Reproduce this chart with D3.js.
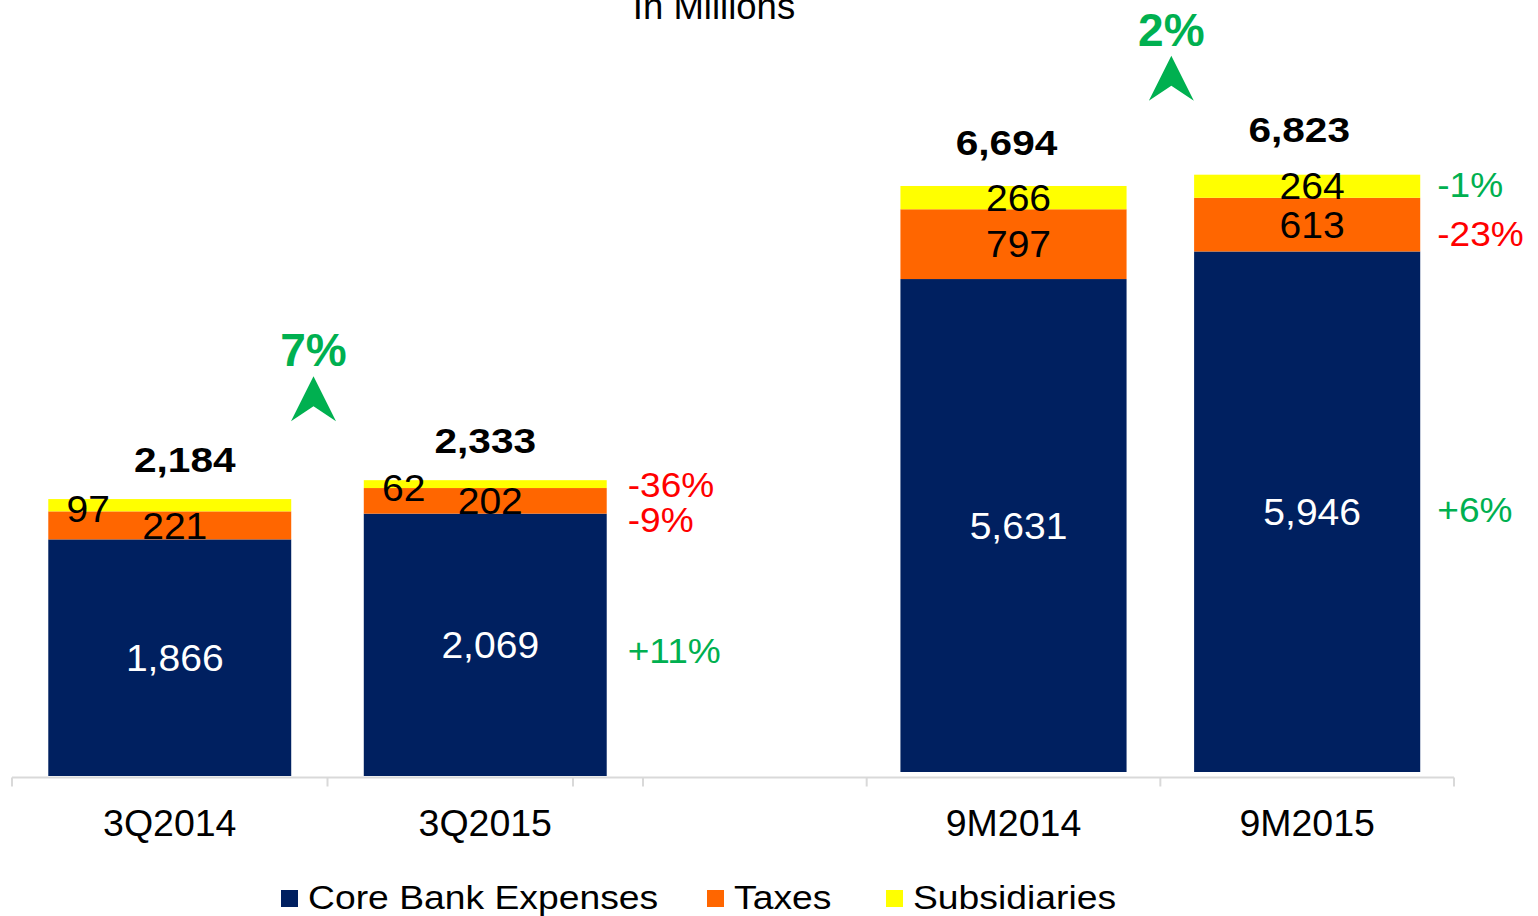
<!DOCTYPE html>
<html>
<head>
<meta charset="utf-8">
<script src="https://cdn.jsdelivr.net/npm/d3@7"></script>
<style>
  body { margin: 0; background: #fff; }
  text { font-family: "Liberation Sans", Arial, sans-serif; }
</style>
</head>
<body>
<div id="chart"></div>
<script>
// data
var quarterCats = ["3Q2014", "3Q2015"];
var nineCats = ["9M2014", "9M2015"];
var seriesNames = ["Core Bank Expenses", "Taxes", "Subsidiaries"];
var quarterCore = [1866, 2069];
var quarterTaxes = [221, 202];
var quarterSubs = [97, 62];
var quarterTotals = [2184, 2333];
var nineCore = [5631, 5946];
var nineTaxes = [797, 613];
var nineSubs = [266, 264];
var nineTotals = [6694, 6823];
var quarterChange = ["+11%", "-9%", "-36%"];   // core, taxes, subs
var nineChange = ["+6%", "-23%", "-1%"];
var growthLabels = ["7%", "2%"];

var width = 1538, height = 916;
var colors = ["#002060", "#FF6600", "#FFFF00"];
var quarterChangeColors = ["#00B050", "#FF0000", "#FF0000"];
var nineChangeColors = ["#00B050", "#FF0000", "#00B050"];
var green = "#00B050";
var fmt = d3.format(",");

var svg = d3.select("#chart").append("svg")
  .attr("width", width)
  .attr("height", height);

// text helper: size = vertical font size, sx = horizontal stretch
function label(g, x, y, s, size, o) {
  o = o || {};
  return g.append("text")
    .attr("transform", "translate(" + x + "," + y + ") scale(" + (o.sx || 1) + ",1)")
    .attr("text-anchor", o.anchor || "middle")
    .attr("dy", o.dy || 0)
    .attr("font-size", size)
    .attr("font-weight", o.bold ? "bold" : "normal")
    .attr("fill", o.fill || "#000")
    .text(s);
}

label(svg, 714, 19, "In Millions", 36.5);

var axisY = 777.5;

// baseline axis line across both panels
svg.append("line")
  .attr("x1", 12).attr("x2", 1454)
  .attr("y1", axisY).attr("y2", axisY)
  .attr("stroke", "#D9D9D9").attr("stroke-width", 2);

function drawPanel(cfg) {
  var g = svg.append("g");
  var rows = cfg.cats.map(function(c, i) {
    return {cat: c, core: cfg.core[i], taxes: cfg.taxes[i], subs: cfg.subs[i], total: cfg.totals[i]};
  });
  var domain = cfg.lead ? [""].concat(cfg.cats) : cfg.cats;
  var x = d3.scaleBand().domain(domain).range(cfg.xr).paddingInner(0.23).paddingOuter(0.115);
  var y = d3.scaleLinear().domain([0, cfg.ymax]).range([cfg.base, cfg.base - cfg.ypx]);
  var stack = d3.stack().keys(["core", "taxes", "subs"])(rows);

  // category boundary ticks
  var step = x.step();
  var bounds = d3.range(domain.length + 1).map(function(i) { return cfg.xr[0] + i * step; });
  g.selectAll("line.tick").data(bounds).enter().append("line")
    .attr("x1", function(d) { return d; }).attr("x2", function(d) { return d; })
    .attr("y1", axisY).attr("y2", axisY + 9)
    .attr("stroke", "#D9D9D9").attr("stroke-width", 2);

  // category labels via axis
  var ax = g.append("g")
    .attr("transform", "translate(0," + axisY + ")")
    .call(d3.axisBottom(x).tickSize(0).tickPadding(0).tickValues(cfg.cats));
  ax.select(".domain").remove();
  ax.selectAll("text")
    .attr("dy", 0).attr("y", 58)
    .attr("font-size", 37.5)
    .attr("font-family", "'Liberation Sans', Arial, sans-serif")
    .attr("fill", "#000");

  var layers = g.selectAll("g.layer").data(stack).enter().append("g")
    .attr("fill", function(d, i) { return colors[i]; });
  layers.selectAll("rect").data(function(d) { return d; }).enter().append("rect")
    .attr("x", function(d) { return x(d.data.cat); })
    .attr("width", x.bandwidth())
    .attr("y", function(d) { return y(d[1]); })
    .attr("height", function(d) { return y(d[0]) - y(d[1]); });

  // segment labels
  stack.forEach(function(layer, si) {
    layer.forEach(function(d) {
      var h = y(d[0]) - y(d[1]);
      var mid = (y(d[0]) + y(d[1])) / 2;
      var cx = x(d.data.cat) + x.bandwidth() / 2 + 5;
      var cy = mid;
      if (h < 15) { cx = x(d.data.cat) + 40; cy = mid + 4; }
      label(g, cx, cy, fmt(d[1] - d[0]), 36.5, {sx: 1.07, dy: "0.36em", fill: si === 0 ? "#fff" : "#000"});
    });
  });

  // totals
  rows.forEach(function(r, i) {
    label(g, x(r.cat) + x.bandwidth() / 2 + cfg.totalDx[i], y(r.total) - cfg.totalLift[i], fmt(r.total), 35, {bold: true, sx: 1.16});
  });

  // change labels beside second bar, pushed apart if too close
  var last = rows.length - 1;
  var lx = x(rows[last].cat) + x.bandwidth() + cfg.chgGap;
  var prev = -Infinity;
  [2, 1, 0].forEach(function(si) {
    var d = stack[si][last];
    var cy = Math.max((y(d[0]) + y(d[1])) / 2 + cfg.chgDy[si], prev + 35);
    prev = cy;
    label(g, lx, cy, cfg.change[si], 35, {anchor: "start", sx: 1.06, dy: "0.36em", fill: cfg.changeColors[si]});
  });

  // growth arrow
  var ax2 = x(rows[1].cat) - step * 0.115 - cfg.arrowShift;
  var topBar = y(d3.max(rows, function(r) { return r.total; }));
  var bottom = topBar - cfg.arrowLift;
  g.append("path")
    .attr("d", "M0,-45L22.5,0L0,-15L-22.5,0Z")
    .attr("transform", "translate(" + ax2 + "," + bottom + ")")
    .attr("fill", green);
  label(g, ax2, bottom - 55, cfg.growth, 46, {bold: true, fill: green});
}

drawPanel({
  cats: quarterCats, core: quarterCore, taxes: quarterTaxes, subs: quarterSubs, totals: quarterTotals,
  change: quarterChange, changeColors: quarterChangeColors, growth: growthLabels[0],
  lead: false, xr: [12, 643], base: 776, ymax: 2500, ypx: 317,
  chgGap: 21, chgDy: [6, 0, 0], arrowLift: 59, arrowShift: 14,
  totalDx: [15, 0], totalLift: [27, 27]
});

drawPanel({
  cats: nineCats, core: nineCore, taxes: nineTaxes, subs: nineSubs, totals: nineTotals,
  change: nineChange, changeColors: nineChangeColors, growth: growthLabels[1],
  lead: true, xr: [573, 1454], base: 772, ymax: 7000, ypx: 612.8,
  chgGap: 17, chgDy: [-2, 9, -2], arrowLift: 74, arrowShift: -11,
  totalDx: [-7, -8], totalLift: [31, 33]
});

// legend
var legendX = [281, 707, 886];
var leg = svg.append("g");
seriesNames.forEach(function(n, i) {
  leg.append("rect")
    .attr("x", legendX[i]).attr("y", 890)
    .attr("width", 17).attr("height", 17)
    .attr("fill", colors[i]);
  label(leg, legendX[i] + 27, 909, n, 33, {anchor: "start", sx: 1.13});
});
</script>
</body>
</html>
